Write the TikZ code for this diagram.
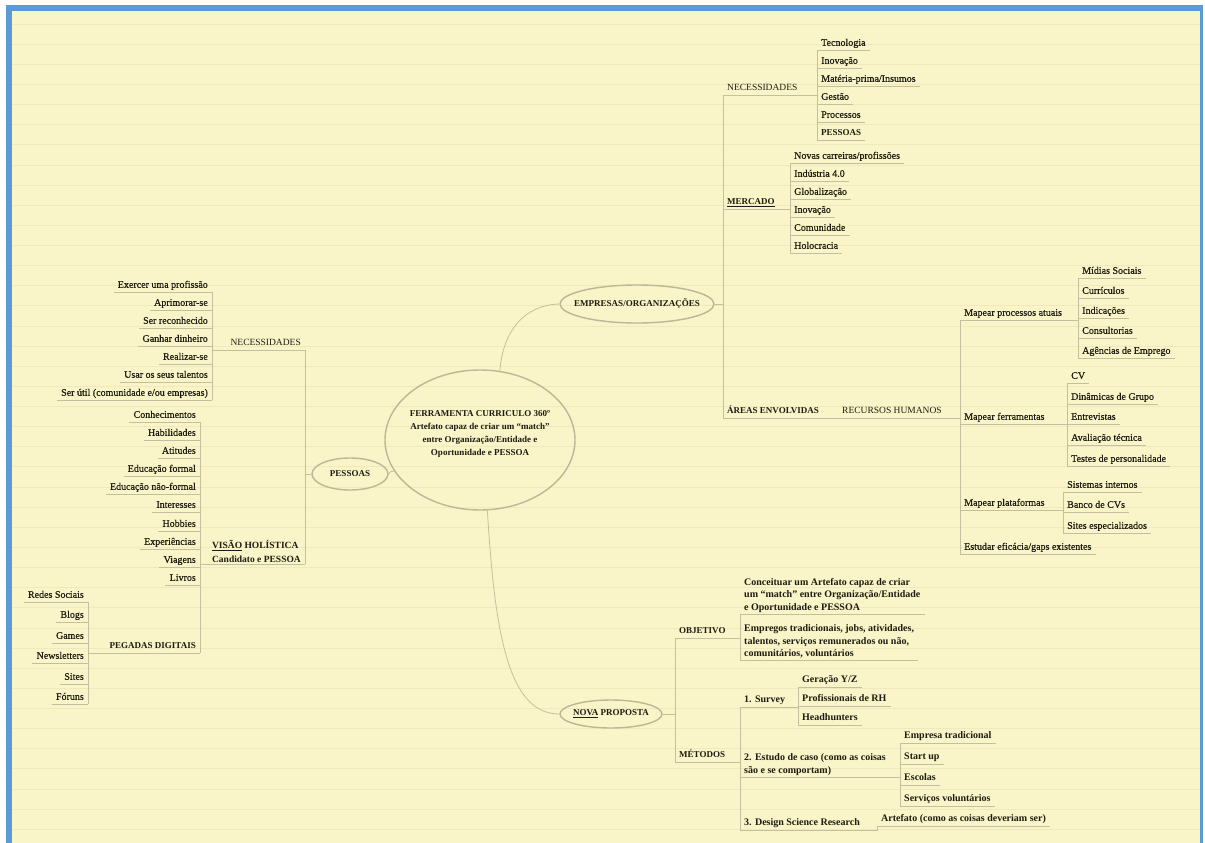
\documentclass[tikz,border=0pt]{standalone}
\usepackage{fontspec}
\setmainfont{Liberation Serif}
\newfontfamily\medfont{Liberation Serif}[FakeBold=0.5]
\usetikzlibrary{shapes.geometric}
\definecolor{bg}{HTML}{FAF5C8}
\definecolor{rulec}{HTML}{F1E9BC}
\definecolor{framec}{HTML}{5B9BD5}
\definecolor{linec}{HTML}{C6BF9F}
\definecolor{ellc}{HTML}{BDB697}
\definecolor{ink}{HTML}{1E1B10}
\begin{document}
\begin{tikzpicture}[x=1pt,y=-1pt,
  base/.style={text=ink, inner xsep=4pt, inner ysep=1.5pt},
  leaf/.style={base, font=\medfont\fontsize{10}{12}\selectfont, text height=7pt, text depth=2.5pt},
  R/.style={leaf, anchor=south west},
  L/.style={leaf, anchor=south east},
  bf/.style={font=\fontsize{10}{12}\selectfont\bfseries},
  capb/.style={font=\fontsize{9}{11}\selectfont\bfseries},
  capr/.style={font=\fontsize{9.5}{11}\selectfont},
  M/.style={base, anchor=south west, align=left, font=\fontsize{10}{12.5}\selectfont\bfseries},
  branch/.style={draw=linec, line width=0.8pt},
  bubble/.style={ellipse, draw=ellc, line width=1.4pt, inner sep=0pt}
]
\useasboundingbox (0,0) rectangle (1205,843);
\fill[white] (0,0) rectangle (1205,843);
\fill[framec] (6,5) rectangle (1203,843);
\fill[bg] (12,11) rectangle (1200,843);
\foreach \i in {0,...,40} \draw[rulec, line width=0.8pt] (12,{24+\i*20.13}) -- (1200,{24+\i*20.13});

% ---- main bubbles
\node[bubble, minimum width=190, minimum height=140,
  label={[text=ink, align=center, yshift=6, font=\fontsize{9}{13}\selectfont\bfseries]center:FERRAMENTA CURRICULO 360º\\Artefato capaz de criar um “match”\\entre Organização/Entidade e\\Oportunidade e PESSOA}] (ctr) at (480,440) {};
\node[bubble, minimum width=154, minimum height=38,
  label={[text=ink, capb]center:EMPRESAS/ORGANIZAÇÕES}] (emp) at (637,304) {};
\node[bubble, minimum width=76, minimum height=32,
  label={[text=ink, capb]center:PESSOAS}] (pes) at (350,474) {};
\node[bubble, minimum width=102, minimum height=28,
  label={[text=ink, capb]center:\underline{NOVA} PROPOSTA}] (nova) at (611,714) {};

\draw[branch] (ctr.74) .. controls (503,330) and (525,305) .. (emp.west);
\draw[branch] (ctr.200) .. controls (391,471) .. (pes.east);
\draw[branch] (ctr.276) .. controls (495,640) and (510,714) .. (nova.west);

% ---- EMPRESAS / ORGANIZACOES
\node[R, capr] (necR) at (723,95) {NECESSIDADES};
\node[R] (tec) at (817,50) {Tecnologia};
\node[R] (inoA) at (817,68) {Inovação};
\node[R] (mat) at (817,86) {Matéria-prima/Insumos};
\node[R] (ges) at (817,104) {Gestão};
\node[R] (proc) at (817,122) {Processos};
\node[R, capb] (pesR) at (817,140) {PESSOAS};

\node[R, capb] (mer) at (723,209) {\underline{MERCADO}};
\node[R] (nov) at (790,163) {Novas carreiras/profissões};
\node[R] (ind) at (790,181) {Indústria 4.0};
\node[R] (glo) at (790,199) {Globalização};
\node[R] (inoB) at (790,217) {Inovação};
\node[R] (com) at (790,235) {Comunidade};
\node[R] (hol) at (790,253) {Holocracia};

\node[R, capb] (are) at (723,418) {ÁREAS ENVOLVIDAS};
\node[R, capr] (rh) at (838,418) {RECURSOS HUMANOS};
\node[R] (mpa) at (960,320) {Mapear processos atuais};
\node[R] (mfe) at (960,424) {Mapear ferramentas};
\node[R] (mpl) at (960,510) {Mapear plataformas};
\node[R] (est) at (960,554) {Estudar eficácia/gaps existentes};

\node[R] (mid) at (1078,278) {Mídias Sociais};
\node[R] (cur) at (1078,298) {Currículos};
\node[R] (indc) at (1078,318) {Indicações};
\node[R] (cons) at (1078,338) {Consultorias};
\node[R] (age) at (1078,358) {Agências de Emprego};

\node[R] (cv) at (1067,383) {CV};
\node[R] (din) at (1067,404) {Dinâmicas de Grupo};
\node[R] (ent) at (1067,424) {Entrevistas};
\node[R] (ava) at (1067,445) {Avaliação técnica};
\node[R] (tes) at (1067,466) {Testes de personalidade};

\node[R] (sis) at (1063,492) {Sistemas internos};
\node[R] (ban) at (1063,512) {Banco de CVs};
\node[R] (sit) at (1063,533) {Sites especializados};

\draw[branch] (emp.east) -- (emp.east -| necR.south west);
\draw[branch] (necR.south west) -- (are.south west);
\draw[branch] (necR.south west) -- (necR.south west -| tec.south west);
\draw[branch] (tec.south west) -- (pesR.south west);
\draw[branch] (mer.south west) -- (mer.south west -| nov.south west);
\draw[branch] (nov.south west) -- (hol.south west);
\draw[branch] (are.south west) -- (rh.south west);
\draw[branch] (rh.south west) -- (rh.south west -| mpa.south west);
\draw[branch] (mpa.south west) -- (est.south west);
\draw[branch] (mpa.south west) -- (mpa.south west -| mid.south west);
\draw[branch] (mid.south west) -- (age.south west);
\draw[branch] (mfe.south west) -- (mfe.south west -| cv.south west);
\draw[branch] (cv.south west) -- (tes.south west);
\draw[branch] (mpl.south west) -- (mpl.south west -| sis.south west);
\draw[branch] (sis.south west) -- (sit.south west);

% ---- PESSOAS
\node[L, capr] (necL) at (305,350) {NECESSIDADES};
\node[L] (exe) at (212,292) {Exercer uma profissão};
\node[L] (apr) at (212,310) {Aprimorar-se};
\node[L] (rec) at (212,328) {Ser reconhecido};
\node[L] (gan) at (212,346) {Ganhar dinheiro};
\node[L] (rea) at (212,364) {Realizar-se};
\node[L] (usa) at (212,382) {Usar os seus talentos};
\node[L] (sut) at (212,400) {Ser útil (comunidade e/ou empresas)};

\node[base, anchor=south east, align=left, font=\fontsize{9.5}{14}\selectfont\bfseries] (vis) at (305,564) {\underline{VISÃO} HOLÍSTICA\\Candidato e PESSOA};
\node[L] (con) at (200,422) {Conhecimentos};
\node[L] (hab) at (200,440) {Habilidades};
\node[L] (ati) at (200,458) {Atitudes};
\node[L] (edf) at (200,476) {Educação formal};
\node[L] (edn) at (200,494) {Educação não-formal};
\node[L] (int) at (200,512) {Interesses};
\node[L] (hob) at (200,531) {Hobbies};
\node[L] (exp) at (200,549) {Experiências};
\node[L] (via) at (200,567) {Viagens};
\node[L] (liv) at (200,585) {Livros};
\node[L, capb] (peg) at (200,653) {PEGADAS DIGITAIS};

\node[L] (red) at (88,602) {Redes Sociais};
\node[L] (blo) at (88,622) {Blogs};
\node[L] (gam) at (88,643) {Games};
\node[L] (new) at (88,663) {Newsletters};
\node[L] (sie) at (88,684) {Sites};
\node[L] (foru) at (88,704) {Fóruns};

\draw[branch] (pes.west) -- (pes.west -| necL.south east);
\draw[branch] (necL.south east) -- (vis.south east);
\draw[branch] (necL.south east) -- (necL.south east -| exe.south east);
\draw[branch] (exe.south east) -- (sut.south east);
\draw[branch] (vis.south east) -- (vis.south east -| con.south east);
\draw[branch] (con.south east) -- (peg.south east);
\draw[branch] (peg.south east) -- (peg.south east -| red.south east);
\draw[branch] (red.south east) -- (foru.south east);

% ---- NOVA PROPOSTA
\node[R, capb] (obj) at (675,638) {OBJETIVO};
\node[M] (ob1) at (740,614) {Conceituar um Artefato capaz de criar\\um “match” entre Organização/Entidade\\e Oportunidade e PESSOA};
\node[M] (ob2) at (740,660) {Empregos tradicionais, jobs, atividades,\\talentos, serviços remunerados ou não,\\comunitários, voluntários};
\node[R, capb] (met) at (675,762) {MÉTODOS};
\node[R, bf] (sur) at (740,707) {1. Survey};
\node[M] (esc) at (740,777) {2. Estudo de caso (como as coisas\\são e se comportam)};
\node[R, bf] (dsr) at (740,830) {3. Design Science Research};
\node[R, bf] (gen) at (798,687) {Geração Y/Z};
\node[R, bf] (prh) at (798,706) {Profissionais de RH};
\node[R, bf] (hea) at (798,725) {Headhunters};
\node[R, bf] (emt) at (900,743) {Empresa tradicional};
\node[R, bf] (stu) at (900,764) {Start up};
\node[R, bf] (escl) at (900,785) {Escolas};
\node[R, bf] (svo) at (900,806) {Serviços voluntários};
\node[R, bf] (art) at (877,826) {Artefato (como as coisas deveriam ser)};

\draw[branch] (nova.east) -- (nova.east -| obj.south west);
\draw[branch] (obj.south west) -- (met.south west);
\draw[branch] (obj.south west) -- (obj.south west -| ob1.south west);
\draw[branch] (ob1.south west) -- (ob2.south west);
\draw[branch] (met.south west) -- (met.south west -| sur.south west);
\draw[branch] (sur.south west) -- (dsr.south west);
\draw[branch] (sur.south west) -- (sur.south west -| gen.south west);
\draw[branch] (gen.south west) -- (hea.south west);
\draw[branch] (esc.south west) -- (esc.south west -| emt.south west);
\draw[branch] (emt.south west) -- (svo.south west);
\draw[branch] (dsr.south west) -- (dsr.south west -| art.south west) -- (art.south west);

% ---- leaf underlines
\foreach \n in {tec,inoA,mat,ges,proc,pesR,nov,ind,glo,inoB,com,hol,mid,cur,indc,cons,age,cv,din,ent,ava,tes,sis,ban,sit,est,ob1,ob2,gen,prh,hea,emt,stu,escl,svo,art}
  \draw[branch] (\n.south west) -- (\n.south east);
\foreach \n in {exe,apr,rec,gan,rea,usa,sut,con,hab,ati,edf,edn,int,hob,exp,via,liv,red,blo,gam,new,sie,foru}
  \draw[branch] (\n.south west) -- (\n.south east);
\end{tikzpicture}
\end{document}
